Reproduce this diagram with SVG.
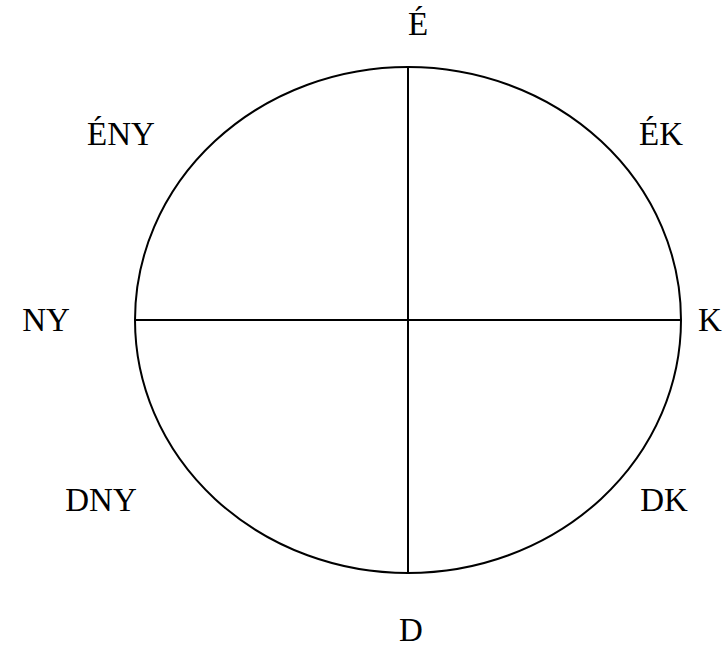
<svg xmlns="http://www.w3.org/2000/svg" width="724" height="648" viewBox="0 0 724 648">
<style>
.lbl{font-family:"Liberation Serif","Times New Roman",serif;font-size:33px;fill:#000;text-anchor:middle}
.ln{stroke:#000;stroke-width:2;fill:none}
</style>
<rect width="724" height="648" fill="#fff"/>
<g id="compass">
<ellipse class="ln" cx="408" cy="320" rx="273" ry="253"/>
</g>
<g id="connectors">
<line class="ln" x1="408" y1="67" x2="408" y2="573"/>
<line class="ln" x1="135" y1="320" x2="681" y2="320"/>
</g>
<g id="label-E"><text class="lbl" x="418" y="35">É</text></g>
<g id="label-EK"><text class="lbl" x="661" y="145">ÉK</text></g>
<g id="label-ENY"><text class="lbl" x="121" y="145">ÉNY</text></g>
<g id="label-NY"><text class="lbl" x="46" y="331">NY</text></g>
<g id="label-K"><text class="lbl" x="710" y="331">K</text></g>
<g id="label-DNY"><text class="lbl" x="101" y="511">DNY</text></g>
<g id="label-DK"><text class="lbl" x="664" y="511">DK</text></g>
<g id="label-D"><text class="lbl" x="411" y="641">D</text></g>
</svg>
